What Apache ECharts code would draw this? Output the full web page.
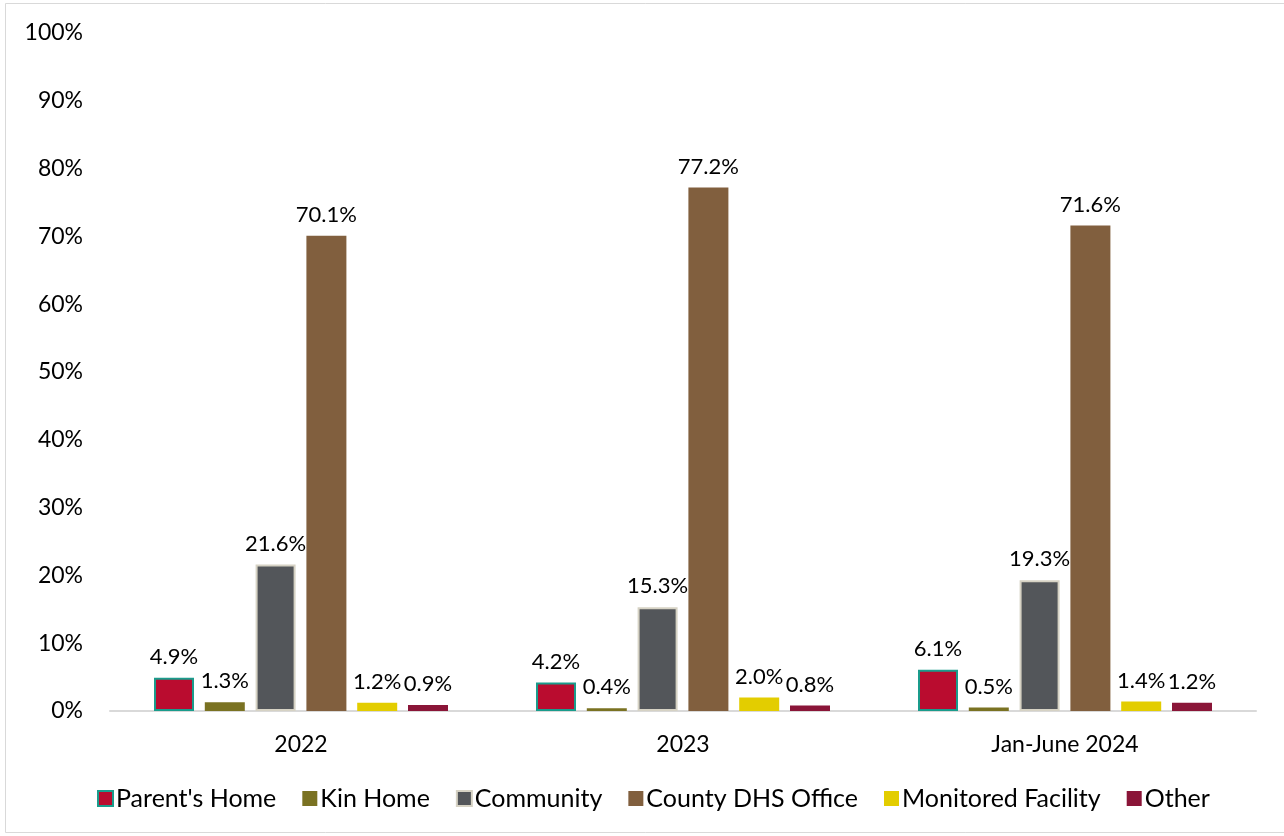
<!DOCTYPE html>
<html>
<head>
<meta charset="utf-8">
<script src="https://cdn.jsdelivr.net/npm/echarts@6/dist/echarts.min.js"></script>
<style>
  html, body { margin: 0; padding: 0; background: #ffffff; }
  #chart { width: 1284px; height: 836px; }
</style>
</head>
<body>
<div id="chart"></div>
<script>
// Periods on the category axis
const periods = ['2022', '2023', 'Jan-June 2024'];

// Share of visits by location (%)
const parentsHome       = [4.9, 4.2, 6.1];
const kinHome           = [1.3, 0.4, 0.5];
const community         = [21.6, 15.3, 19.3];
const countyDhsOffice   = [70.1, 77.2, 71.6];
const monitoredFacility = [1.2, 2.0, 1.4];
const other             = [0.9, 0.8, 1.2];

const yTicks = [0, 10, 20, 30, 40, 50, 60, 70, 80, 90, 100];

const FONT = 'Lato, "Open Sans", "Noto Sans", sans-serif';
const FS = 23;

const seriesDefs = [
  { name: "Parent's Home", data: parentsHome, color: '#BA0C2F', border: '#1A9C8C', bw: 2 },
  { name: 'Kin Home', data: kinHome, color: '#7A7222', border: '#7A7222', bw: 0 },
  { name: 'Community', data: community, color: '#53565A', border: '#D6D2C4', bw: 2 },
  { name: 'County DHS Office', data: countyDhsOffice, color: '#815F3E', border: '#815F3E', bw: 0 },
  { name: 'Monitored Facility', data: monitoredFacility, color: '#E3CD00', border: '#E3CD00', bw: 0 },
  { name: 'Other', data: other, color: '#8A1538', border: '#8A1538', bw: 0 }
];

const chart = echarts.init(document.getElementById('chart'), null, { renderer: 'canvas' });

chart.setOption({
  backgroundColor: '#ffffff',
  animation: false,
  textStyle: { fontFamily: FONT },
  graphic: [{
    type: 'rect',
    shape: { x: 5.5, y: 3.5, width: 1290, height: 829 },
    style: { fill: 'none', stroke: '#D9D9D9', lineWidth: 1 },
    silent: true
  }],
  grid: { left: 110, right: 28, top: 33, bottom: 125 },
  legend: {
    bottom: 20,
    left: 92,
    itemWidth: 15,
    itemHeight: 15,
    itemGap: 26,
    icon: 'rect',
    textStyle: { fontFamily: FONT, fontSize: 25, color: '#000000', padding: [0, 0, 0, -2] },
    data: seriesDefs.map(s => s.name)
  },
  xAxis: {
    type: 'category',
    data: periods,
    axisLine: { show: true, lineStyle: { color: '#D9D9D9', width: 2 } },
    axisTick: { show: false },
    axisLabel: { color: '#000000', fontSize: FS, fontFamily: FONT, margin: 22 }
  },
  yAxis: {
    type: 'value',
    min: 0,
    max: 100,
    interval: 10,
    splitLine: { show: false },
    axisLine: { show: false },
    axisTick: { show: false },
    axisLabel: {
      color: '#000000',
      fontSize: FS,
      fontFamily: FONT,
      margin: 27,
      formatter: v => (yTicks.includes(v) ? v + '%' : '')
    }
  },
  series: seriesDefs.map(s => ({
    name: s.name,
    type: 'bar',
    data: s.data,
    barWidth: 40,
    barGap: '27%',
    itemStyle: { color: s.color, borderColor: s.border, borderWidth: s.bw },
    label: {
      show: true,
      position: 'top',
      distance: 10,
      color: '#000000',
      fontSize: 22,
      fontFamily: FONT,
      formatter: p => p.value.toFixed(1) + '%'
    }
  }))
});
</script>
</body>
</html>
